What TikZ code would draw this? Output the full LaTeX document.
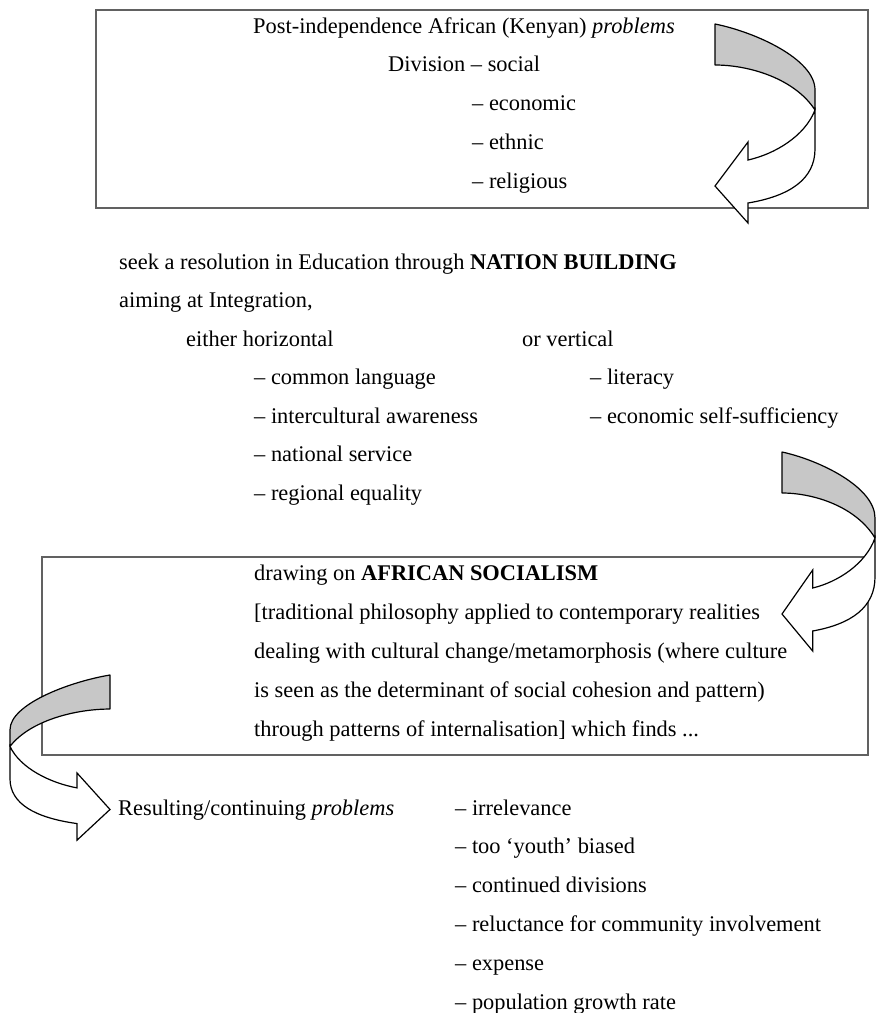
\documentclass[tikz,border=0pt]{standalone}
\usepackage{fontspec}
\setmainfont{Liberation Serif}
\newcommand\foldarrow[4]{%
  \begin{scope}[shift={(#1,#2)}, xscale=#3, yscale=#4]
    \draw[backface] (0,0) .. controls (40,8) and (100,35) .. (100,66)
      -- (100,86) .. controls (80,55) and (35,41) .. (0,41) -- cycle;
    \draw[frontface] (100,86) .. controls (90,112) and (60,130) .. (33,136)
      -- (33,118) -- (0,162) -- (33,199) -- (33,179)
      .. controls (75,172) and (100,155) .. (100,125) -- cycle;
  \end{scope}}
\begin{document}
\begin{tikzpicture}[x=1pt,y=-1pt,
  txt/.style={anchor=base west, inner sep=0pt, font=\fontsize{22.4}{26}\selectfont},
  boxline/.style={draw=black!62, line width=1.4pt},
  backface/.style={fill=black!22, draw=black, line width=1.2pt, line join=round},
  frontface/.style={fill=white, draw=black, line width=1.2pt, line join=miter}]
\useasboundingbox (0,0) rectangle (876,1013);

% boxes
\draw[boxline] (96,10) rectangle (868,208);
\draw[boxline] (42,557) rectangle (868,755);

% box 1 text
\node[txt] (t1) at (253,33) {Post-independence African (Kenyan) \textit{problems}};
\node[txt] (t2) at (388,71.75) {Division – social};
\node[txt] (t3) at (472,110.5) {– economic};
\node[txt] (t4) at (472,149.25) {– ethnic};
\node[txt] (t5) at (472,188) {– religious};

% middle text
\node[txt] (m1) at (119,269) {seek a resolution in Education through \textbf{NATION BUILDING}};
\node[txt] (m2) at (119,307.5) {aiming at Integration,};
\node[txt] (m3) at (186,346) {either horizontal};
\node[txt] (m4) at (522,346) {or vertical};
\node[txt] (h1) at (254,384.5) {– common language};
\node[txt] (h2) at (254,423) {– intercultural awareness};
\node[txt] (h3) at (254,461.5) {– national service};
\node[txt] (h4) at (254,500) {– regional equality};
\node[txt] (v1) at (590,384.5) {– literacy};
\node[txt] (v2) at (590,423) {– economic self-sufficiency};

% box 2 text
\node[txt] (s1) at (254,580) {drawing on \textbf{AFRICAN SOCIALISM}};
\node[txt] (s2) at (254,619) {[traditional philosophy applied to contemporary realities};
\node[txt] (s3) at (254,658) {dealing with cultural change/metamorphosis (where culture};
\node[txt] (s4) at (254,697) {is seen as the determinant of social cohesion and pattern)};
\node[txt] (s5) at (254,736) {through patterns of internalisation] which finds ...};

% bottom text
\node[txt] (r0) at (118,815) {Resulting/continuing \textit{problems}};
\node[txt] (r1) at (455,815) {– irrelevance};
\node[txt] (r2) at (455,853.8) {– too ‘youth’ biased};
\node[txt] (r3) at (455,892.6) {– continued divisions};
\node[txt] (r4) at (455,931.4) {– reluctance for community involvement};
\node[txt] (r5) at (455,970.2) {– expense};
\node[txt] (r6) at (455,1009) {– population growth rate};

% folded arrows
\foldarrow{715}{24}{1}{1}
\foldarrow{782}{452}{0.93}{1}
\foldarrow{110}{675}{-1}{0.83}
\end{tikzpicture}
\end{document}
